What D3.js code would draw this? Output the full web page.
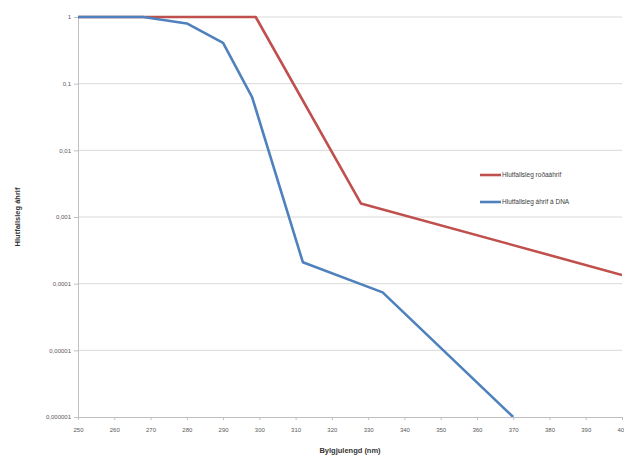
<!DOCTYPE html>
<html lang="is">
<head>
    <meta charset="UTF-8">
    <title>Hlutfallsleg áhrif</title>
    <script src="https://d3js.org/d3.v7.min.js"></script>
    <style>
        body {
            margin: 0;
            background-color: #fff;
            font-family: "Liberation Sans", Arial, sans-serif;
        }
        #chart {
            width: 624px;
            height: 459px;
        }
        .tick text {
            font-size: 6px;
            fill: #595959;
        }
        .grid line {
            stroke: #d9d9d9;
            stroke-width: 1px;
        }
        .series {
            fill: none;
            stroke-width: 2.6px;
            stroke-linejoin: round;
        }
        .axis-title {
            font-size: 7.5px;
            font-weight: bold;
            fill: #333;
        }
        .legend text {
            font-size: 6.5px;
            fill: #404040;
        }
    </style>
</head>
<body>
    <div id="chart"></div>

    <script>
        // wavelengths (nm) and relative effect
        const xTicks = [250, 260, 270, 280, 290, 300, 310, 320, 330, 340, 350, 360, 370, 380, 390, 400];
        const yTicks = [1, 0.1, 0.01, 0.001, 0.0001, 0.00001, 0.000001];
        const yTickLabels = ["1", "0,1", "0,01", "0,001", "0,0001", "0,00001", "0,000001"];

        const erythemaX = [250, 260, 270, 280, 290, 299, 328, 400];
        const erythemaY = [1, 1, 1, 1, 1, 1, 0.0016, 0.000135];

        const dnaX = [250, 260, 268, 280, 290, 298, 312, 334, 370];
        const dnaY = [1, 1, 1, 0.8, 0.41, 0.063, 0.00021, 0.000074, 0.000001];

        const seriesNames = ["Hlutfallsleg roðaáhrif", "Hlutfallsleg áhrif á DNA"];
        const seriesColors = ["#c0504d", "#4f81bd"];

        const width = 624, height = 459;
        const margin = {top: 17, right: 2, bottom: 42, left: 78};

        const svg = d3.select("#chart")
            .append("svg")
            .attr("width", width)
            .attr("height", height);

        const x = d3.scaleLinear()
            .domain([250, 400])
            .range([margin.left, width - margin.right]);

        const y = d3.scaleLog()
            .domain([0.000001, 1])
            .range([height - margin.bottom, margin.top]);

        // horizontal grid
        svg.append("g")
            .attr("class", "grid")
            .selectAll("line")
            .data(yTicks.slice(0, -1))
            .enter().append("line")
            .attr("x1", margin.left)
            .attr("x2", width - margin.right)
            .attr("y1", d => y(d))
            .attr("y2", d => y(d));

        // y axis
        const yAxis = svg.append("g")
            .attr("transform", `translate(${margin.left},0)`)
            .call(d3.axisLeft(y)
                .tickValues(yTicks)
                .tickFormat((d, i) => yTickLabels[i])
                .tickSize(4)
                .tickPadding(3));
        yAxis.select(".domain").attr("stroke", "#bfbfbf");
        yAxis.selectAll(".tick line").attr("stroke", "#bfbfbf");

        // x axis
        const xAxis = svg.append("g")
            .attr("transform", `translate(0,${height - margin.bottom})`)
            .call(d3.axisBottom(x)
                .tickValues(xTicks)
                .tickFormat(d3.format("d"))
                .tickSize(3)
                .tickPadding(8));
        xAxis.select(".domain").attr("stroke", "#bfbfbf");
        xAxis.selectAll(".tick line").attr("stroke", "#bfbfbf");

        // clip so the DNA line stops at the bottom of the plot
        svg.append("clipPath")
            .attr("id", "plot-clip")
            .append("rect")
            .attr("x", margin.left)
            .attr("y", margin.top - 3)
            .attr("width", width - margin.left - margin.right)
            .attr("height", height - margin.top - margin.bottom + 3);

        const line = d3.line()
            .x(d => x(d[0]))
            .y(d => y(d[1]));

        const series = [
            d3.zip(erythemaX, erythemaY),
            d3.zip(dnaX, dnaY)
        ];

        svg.append("g")
            .attr("clip-path", "url(#plot-clip)")
            .selectAll("path")
            .data(series)
            .enter().append("path")
            .attr("class", "series")
            .attr("stroke", (d, i) => seriesColors[i])
            .attr("d", line);

        // legend
        const legend = svg.append("g")
            .attr("class", "legend")
            .selectAll("g")
            .data(seriesNames)
            .enter().append("g")
            .attr("transform", (d, i) => `translate(480,${175 + i * 27})`);

        legend.append("line")
            .attr("x1", 0)
            .attr("x2", 21)
            .attr("stroke", (d, i) => seriesColors[i])
            .attr("stroke-width", 2.6);

        legend.append("text")
            .attr("x", 22)
            .attr("dy", "0.35em")
            .text(d => d);

        // axis titles
        svg.append("text")
            .attr("class", "axis-title")
            .attr("x", (margin.left + width - margin.right) / 2)
            .attr("y", 453)
            .attr("text-anchor", "middle")
            .text("Bylgjulengd (nm)");

        svg.append("text")
            .attr("class", "axis-title")
            .attr("transform", "translate(20,217) rotate(-90)")
            .attr("text-anchor", "middle")
            .text("Hlutfallsleg áhrif");
    </script>
</body>
</html>
